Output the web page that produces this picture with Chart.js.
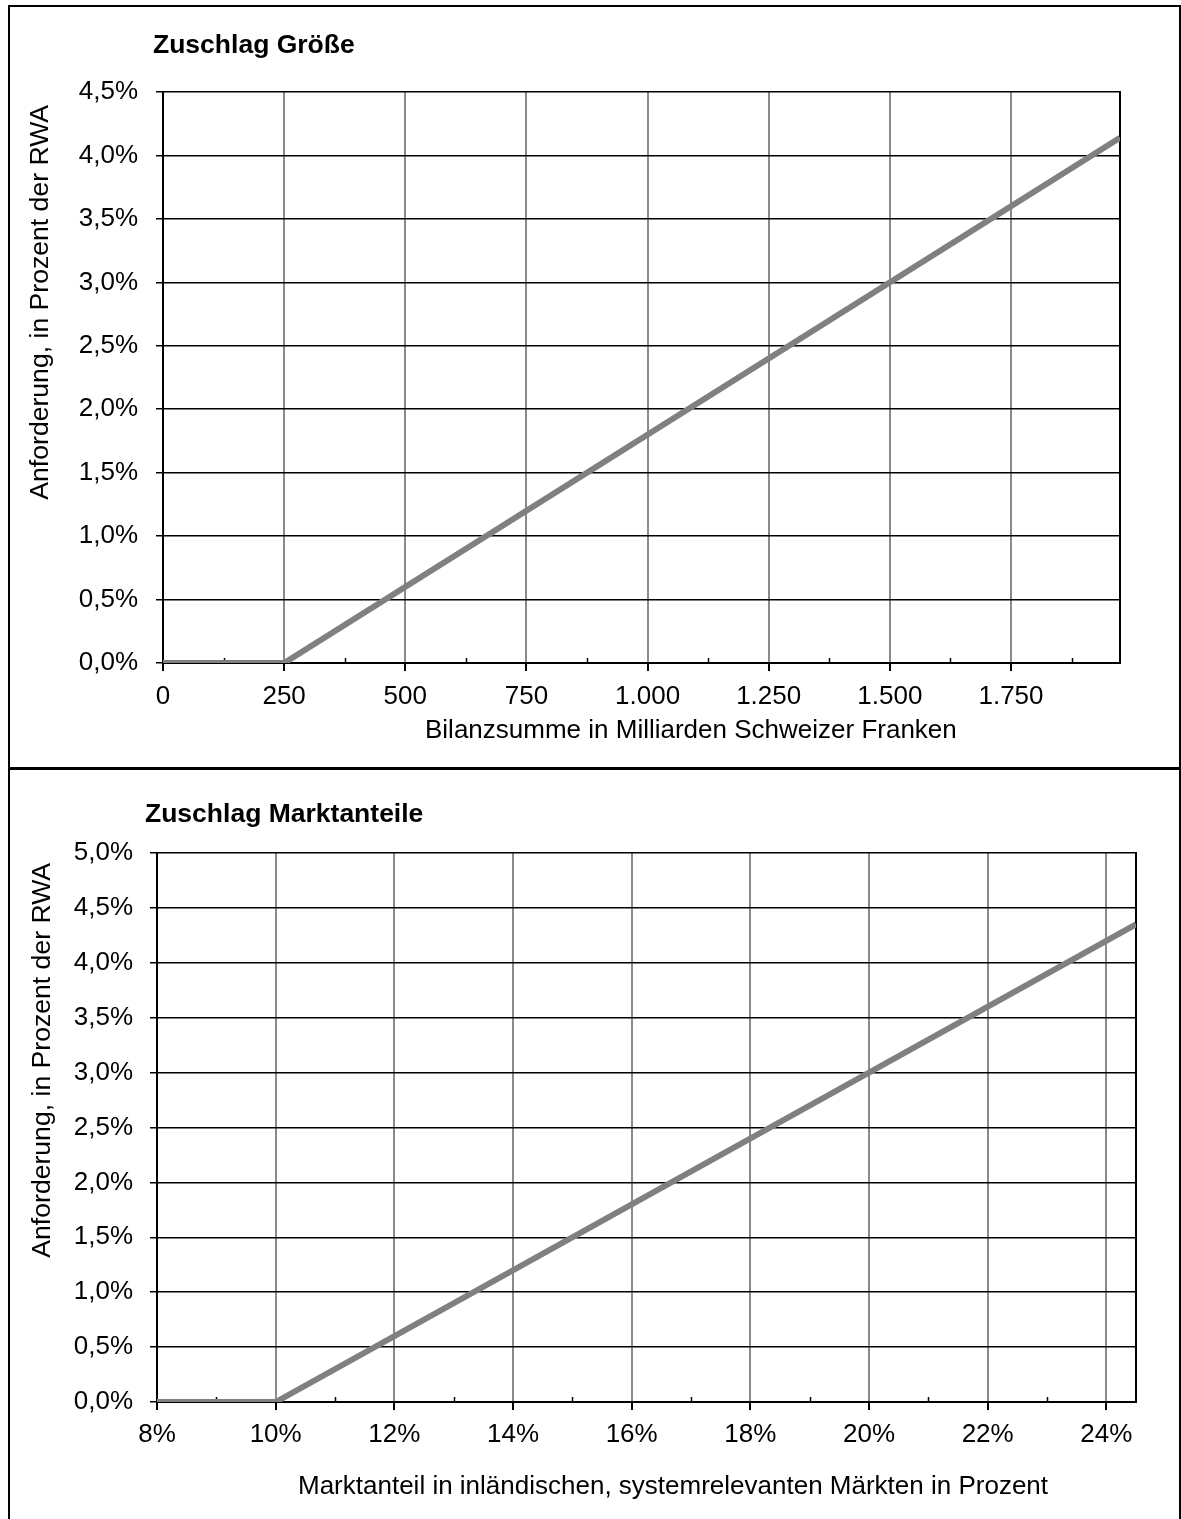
<!DOCTYPE html>
<html lang="de">
<head>
<meta charset="utf-8">
<title>Zuschlag Größe und Marktanteile</title>
<script src="https://cdn.jsdelivr.net/npm/chart.js@4.4.1/dist/chart.umd.min.js"></script>
<style>
  html, body { margin: 0; padding: 0; background: #fff; }
  body { width: 1181px; height: 1519px; position: relative; overflow: hidden; }
  canvas { position: absolute; left: 0; }
  #groesseChart { top: 0; }
  #anteilChart { top: 768px; }
  .panel { position: absolute; box-sizing: border-box; border: 2px solid #000; pointer-events: none; }
  #panelOben { left: 8px; top: 5px; width: 1173px; height: 765px; }
  #panelUnten { left: 8px; top: 767px; width: 1173px; height: 760px; }
</style>
</head>
<body>
<canvas id="groesseChart" width="1181" height="768"></canvas>
<canvas id="anteilChart" width="1181" height="751"></canvas>
<div class="panel" id="panelOben"></div>
<div class="panel" id="panelUnten"></div>

<script>
// Zuschlag Größe: Bilanzsumme (Mrd. CHF) -> Anforderung in % der RWA
const groesseX = [0, 250, 1975];
const groesseY = [0, 0, 4.14];
const groesseXTicks = [0, 250, 500, 750, 1000, 1250, 1500, 1750];
const groesseXLabels = ["0", "250", "500", "750", "1.000", "1.250", "1.500", "1.750"];
const groesseYTicks = [0, 0.5, 1, 1.5, 2, 2.5, 3, 3.5, 4, 4.5];
const groesseYLabels = ["0,0%", "0,5%", "1,0%", "1,5%", "2,0%", "2,5%", "3,0%", "3,5%", "4,0%", "4,5%"];

// Zuschlag Marktanteile: Marktanteil (%) -> Anforderung in % der RWA
const anteilX = [8, 10, 24.5];
const anteilY = [0, 0, 4.35];
const anteilXTicks = [8, 10, 12, 14, 16, 18, 20, 22, 24];
const anteilXLabels = ["8%", "10%", "12%", "14%", "16%", "18%", "20%", "22%", "24%"];
const anteilYTicks = [0, 0.5, 1, 1.5, 2, 2.5, 3, 3.5, 4, 4.5, 5];
const anteilYLabels = ["0,0%", "0,5%", "1,0%", "1,5%", "2,0%", "2,5%", "3,0%", "3,5%", "4,0%", "4,5%", "5,0%"];

const FONT = "'Liberation Sans', Arial, Helvetica, sans-serif";
const LINE_GREY = "#808080";

// Rahmen rechts, kleine Zwischenstriche nach innen und die Beschriftungen
const beschriftungPlugin = {
  id: "beschriftung",
  beforeDatasetsDraw(chart, args, opts) {
    const ctx = chart.ctx;
    const area = chart.chartArea;
    const xScale = chart.scales.x;
    ctx.save();
    ctx.strokeStyle = "#000";
    ctx.lineWidth = 2;
    ctx.beginPath();
    ctx.moveTo(area.right, area.top - 1);
    ctx.lineTo(area.right, area.bottom + 1);
    ctx.stroke();

    // Zwischenstriche zwischen den Hauptteilungen
    const ticks = opts.majorTicks;
    const step = ticks[1] - ticks[0];
    ctx.lineWidth = 1.5;
    ticks.forEach((v) => {
      const mid = v + step / 2;
      if (mid >= xScale.max) return;
      const px = Math.round(xScale.getPixelForValue(mid)) + 0.5;
      ctx.beginPath();
      ctx.moveTo(px, area.bottom);
      ctx.lineTo(px, area.bottom - 5);
      ctx.stroke();
    });
    ctx.restore();
  },
  afterDraw(chart, args, opts) {
    const ctx = chart.ctx;
    ctx.save();
    ctx.fillStyle = "#000";
    ctx.textBaseline = "middle";

    ctx.font = "bold 26.5px " + FONT;
    ctx.textAlign = "left";
    ctx.fillText(opts.title.text, opts.title.x, opts.title.y);

    ctx.font = "26px " + FONT;
    ctx.fillText(opts.xCaption.text, opts.xCaption.x, opts.xCaption.y);

    ctx.font = "26.6px " + FONT;
    ctx.translate(opts.yCaption.x, opts.yCaption.y);
    ctx.rotate(-Math.PI / 2);
    ctx.textAlign = "right";
    ctx.fillText(opts.yCaption.text, 0, 0);
    ctx.restore();
  }
};

function makeChart(canvasId, cfg) {
  const ctx = document.getElementById(canvasId).getContext("2d");
  return new Chart(ctx, {
    type: "line",
    data: {
      datasets: [{
        data: cfg.xs.map((x, i) => ({ x: x, y: cfg.ys[i] })),
        borderColor: LINE_GREY,
        borderWidth: 6,
        pointRadius: 0,
        tension: 0,
        fill: false
      }]
    },
    options: {
      responsive: false,
      animation: false,
      devicePixelRatio: 1,
      layout: { padding: cfg.padding },
      plugins: {
        legend: { display: false },
        tooltip: { enabled: false },
        title: { display: false },
        beschriftung: {
          majorTicks: cfg.xTicks,
          title: cfg.title,
          xCaption: cfg.xCaption,
          yCaption: cfg.yCaption
        }
      },
      scales: {
        x: {
          type: "linear",
          min: cfg.xMin,
          max: cfg.xMax,
          afterBuildTicks: (scale) => { scale.ticks = cfg.xTicks.map((v) => ({ value: v })); },
          afterFit: (scale) => { scale.height = cfg.xHeight; },
          ticks: {
            autoSkip: false,
            maxRotation: 0,
            padding: cfg.xLabelPad,
            color: "#000",
            font: { family: FONT, size: 26 },
            callback: (value, index) => cfg.xLabels[index]
          },
          grid: {
            color: (c) => (c.tick && c.tick.value === cfg.xMin ? "rgba(0,0,0,0)" : "#8a8a8a"),
            lineWidth: 2,
            tickColor: "#000",
            tickLength: 8,
            tickWidth: 2
          },
          border: { color: "#000", width: 2 }
        },
        y: {
          min: cfg.yTicks[0],
          max: cfg.yTicks[cfg.yTicks.length - 1],
          afterBuildTicks: (scale) => { scale.ticks = cfg.yTicks.map((v) => ({ value: v })); },
          afterFit: (scale) => { scale.width = cfg.yWidth; },
          ticks: {
            autoSkip: false,
            padding: cfg.yLabelPad,
            color: "#000",
            font: { family: FONT, size: 26 },
            callback: (value, index) => cfg.yLabels[index]
          },
          grid: {
            color: "#000",
            lineWidth: 1.5,
            tickColor: "#000",
            tickLength: 7,
            tickWidth: 1.5
          },
          border: { color: "#000", width: 2 }
        }
      }
    },
    plugins: [beschriftungPlugin]
  });
}

makeChart("groesseChart", {
  xs: groesseX, ys: groesseY,
  xMin: 0, xMax: 1975,
  xTicks: groesseXTicks, xLabels: groesseXLabels,
  yTicks: groesseYTicks, yLabels: groesseYLabels,
  padding: { top: 92, right: 61, left: 0, bottom: 0 },
  xHeight: 105, yWidth: 163,
  xLabelPad: 10, yLabelPad: 18,
  title: { text: "Zuschlag Größe", x: 153, y: 46 },
  xCaption: { text: "Bilanzsumme in Milliarden Schweizer Franken", x: 425, y: 731 },
  yCaption: { text: "Anforderung, in Prozent der RWA", x: 41, y: 105 }
});

makeChart("anteilChart", {
  xs: anteilX, ys: anteilY,
  xMin: 8, xMax: 24.5,
  xTicks: anteilXTicks, xLabels: anteilXLabels,
  yTicks: anteilYTicks, yLabels: anteilYLabels,
  padding: { top: 85, right: 45, left: 0, bottom: 0 },
  xHeight: 117, yWidth: 157,
  xLabelPad: 9, yLabelPad: 17,
  title: { text: "Zuschlag Marktanteile", x: 145, y: 47 },
  xCaption: { text: "Marktanteil in inländischen, systemrelevanten Märkten in Prozent", x: 298, y: 719 },
  yCaption: { text: "Anforderung, in Prozent der RWA", x: 43, y: 95 }
});
</script>
</body>
</html>
